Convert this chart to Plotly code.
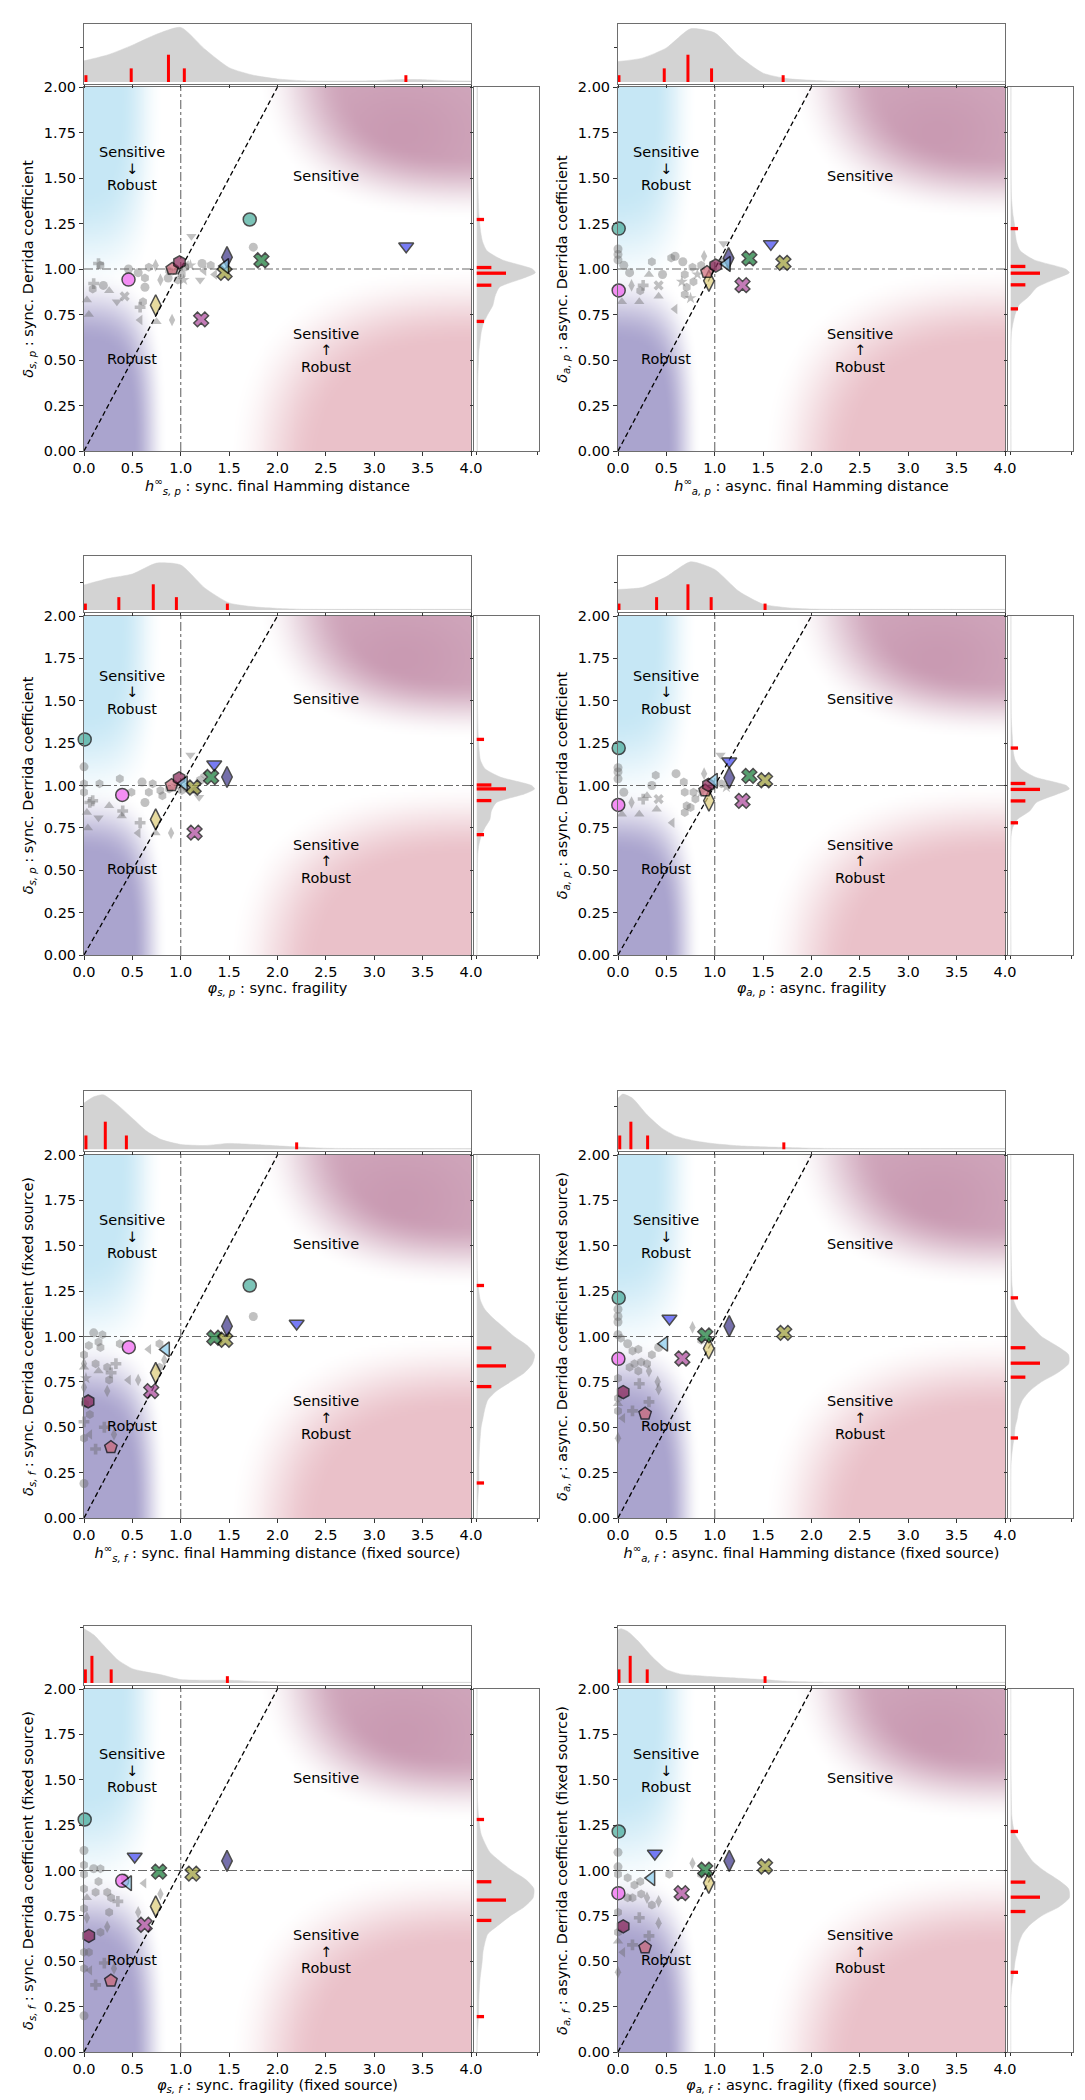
import base64
import struct
import zlib

import numpy as np
import plotly.graph_objects as go

W, H = 1085, 2100
FONT = "DejaVu Sans"
FS = 14.5

# ---------------- data ----------------
# highlighted models (same order in every panel)
HL_SYMBOLS = ["circle", "circle", "hexagon", "pentagon", "diamond-tall", "diamond-tall",
              "triangle-down", "triangle-left", "x", "x", "x"]
HL_COLORS = ["#44AA99", "#F060F0", "#882255", "#CC6677", "#DDCC77", "#3B3388",
             "#3F45F2", "#88CCEE", "#117733", "#999933", "#AA4499"]
DRAW_ORDER = [4, 10, 8, 9, 5, 6, 0, 1, 3, 2, 7]

hl_x_1 = [1.713, 0.46, 0.987, 0.912, 0.741, 1.478, 3.33, 1.46, 1.834, 1.453, 1.211]
hl_y_1 = [1.272, 0.942, 1.037, 1.001, 0.801, 1.065, 1.125, 1.016, 1.048, 0.979, 0.723]
hl_x_2 = [0.007, 0.007, 1.01, 0.92, 0.94, 1.143, 1.58, 1.125, 1.358, 1.71, 1.287]
hl_y_2 = [1.222, 0.882, 1.019, 0.983, 0.935, 1.06, 1.138, 1.028, 1.058, 1.034, 0.911]
hl_x_3 = [0.007, 0.395, 0.983, 0.905, 0.741, 1.478, 1.346, 1.033, 1.314, 1.133, 1.143]
hl_y_3 = [1.272, 0.944, 1.042, 1.002, 0.80, 1.05, 1.125, 1.013, 1.05, 0.988, 0.722]
hl_x_4 = [0.007, 0.003, 0.935, 0.9, 0.94, 1.15, 1.15, 0.992, 1.358, 1.52, 1.287]
hl_y_4 = [1.221, 0.885, 1.003, 0.97, 0.91, 1.045, 1.143, 1.028, 1.057, 1.031, 0.909]
hl_x_5 = [1.713, 0.463, 0.043, 0.278, 0.741, 1.478, 2.198, 0.848, 1.347, 1.46, 0.695]
hl_y_5 = [1.281, 0.941, 0.642, 0.39, 0.80, 1.057, 1.072, 0.929, 0.993, 0.982, 0.699]
hl_x_6 = [0.007, 0.004, 0.054, 0.28, 0.938, 1.15, 0.532, 0.478, 0.902, 1.718, 0.665]
hl_y_6 = [1.213, 0.877, 0.693, 0.575, 0.934, 1.057, 1.099, 0.96, 1.006, 1.02, 0.879]
hl_x_7 = [0.007, 0.395, 0.05, 0.278, 0.741, 1.478, 0.524, 0.456, 0.776, 1.122, 0.627]
hl_y_7 = [1.281, 0.943, 0.64, 0.393, 0.802, 1.053, 1.077, 0.93, 0.994, 0.983, 0.701]
hl_x_8 = [0.007, 0.004, 0.054, 0.28, 0.938, 1.15, 0.381, 0.345, 0.902, 1.52, 0.658]
hl_y_8 = [1.215, 0.875, 0.692, 0.576, 0.932, 1.053, 1.094, 0.958, 1.004, 1.022, 0.875]

# grey background models
gx_1 = [0.03,0.05,0.10,0.09,0.17,0.15,0.20,0.26,0.34,0.42,0.46,0.56,0.63,0.63,0.74,0.79,0.67,0.58,0.61,0.58,
        0.75,0.91,0.87,0.88,0.95,1.01,1.04,1.06,1.03,0.97,1.11,1.20,1.22,1.24,1.31,1.75,1.10,1.35]
gy_1 = [0.83,0.75,0.92,0.89,1.02,1.03,0.91,0.88,0.82,0.85,1.00,0.98,0.95,0.90,1.02,0.94,1.01,0.79,0.82,0.72,
        0.71,0.72,0.95,0.99,0.99,0.97,1.01,1.02,0.94,0.94,1.18,0.94,1.03,0.99,1.02,1.12,1.02,0.97]
gs_1 = "^^PhhPo^vXoohoddhPh<^doh*ho<*hvvo<ho*<"
gx_2 = [0.0,0.0,0.0,0.06,0.12,0.04,0.14,0.22,0.23,0.26,0.32,0.42,0.42,0.46,0.59,0.55,0.67,0.69,0.71,0.69,
        0.75,0.59,0.77,0.82,0.89,0.86,0.98,1.09,1.07,1.14,0.78,0.66,0.35]
gy_2 = [1.11,1.08,1.05,1.02,0.98,0.82,0.91,0.82,0.88,0.91,0.97,0.85,0.91,0.97,1.07,1.06,1.04,0.97,0.90,0.86,
        0.84,0.78,1.01,0.97,1.07,1.02,1.02,1.14,1.04,1.01,0.93,0.93,1.04]
gs_2 = "ooooo^d^hP^^Xoohohhh*<h*dhhvh<h*h"
gx_3 = [0.0,0.0,0.0,0.03,0.04,0.09,0.16,0.15,0.26,0.37,0.40,0.39,0.49,0.60,0.63,0.71,0.67,0.58,0.56,0.74,
        0.90,0.79,0.88,0.95,1.01,1.06,1.10,1.19,1.20,1.15,1.24,0.81,0.06]
gy_3 = [1.11,1.01,0.96,0.84,0.75,0.91,1.01,0.81,0.88,1.04,0.85,0.82,0.96,1.02,0.90,1.01,0.96,0.78,0.72,0.72,
        0.72,0.97,0.98,1.00,0.97,0.99,1.18,0.93,1.03,0.97,1.06,0.94,0.90]
gs_3 = "ohh^^Phv^hP^hoohhP<^dhh*hovvoh<hP"
gx_4 = [0.0,0.0,0.0,0.04,0.06,0.14,0.22,0.26,0.30,0.39,0.40,0.42,0.60,0.68,0.69,0.71,0.69,0.75,0.56,0.78,
        0.86,0.89,0.96,1.06,1.07,1.12,0.35,0.80]
gy_4 = [1.105,1.08,1.04,0.83,0.96,0.90,0.83,0.92,0.94,1.06,0.86,0.92,1.07,1.02,0.96,0.88,0.84,0.87,0.78,0.96,
        0.96,1.07,0.99,1.18,1.01,0.99,1.00,0.92]
gs_4 = "ooo^od^P^h^Xohhhhh<h*dhvh*oh"
gx_5 = [1.75,0.0,0.0,0.02,0.0,0.01,0.0,0.0,0.0,0.0,0.10,0.15,0.19,0.17,0.12,0.15,0.24,0.28,0.26,0.33,
        0.24,0.46,0.56,0.37,0.67,0.78,0.83,0.78,0.21,0.12,0.06,0.31,0.06,0.05]
gy_5 = [1.11,0.90,0.83,0.77,0.72,0.63,0.53,0.44,0.19,0.85,1.02,0.97,1.01,0.94,0.85,0.81,0.83,0.80,0.76,0.85,
        0.70,0.76,0.76,0.96,0.93,0.96,0.87,0.83,0.50,0.38,0.46,0.46,0.57,0.95]
gs_5 = "oh^*dhPhodohhhh^hPhPd<dh<hdhPP<dhh"
gx_6 = [0.0,0.0,0.0,0.0,0.03,0.10,0.15,0.21,0.24,0.17,0.12,0.30,0.32,0.22,0.41,0.42,0.35,0.42,0.77,0.86,
        0.0,0.0,0.0,0.0,0.0,0.15,0.32,0.05,0.21]
gy_6 = [1.11,1.15,1.08,1.01,0.99,0.96,0.92,0.93,0.86,0.85,0.83,0.85,0.81,0.74,0.75,0.71,0.90,0.94,1.05,0.98,
        0.77,0.66,0.59,0.44,0.63,0.59,0.64,0.55,0.81]
gs_6 = "oooohohhhhhhdPddhodhhhhd^PP<h"
gx_7 = [0.0,0.0,0.0,0.0,0.03,0.0,0.03,0.0,0.0,0.0,0.10,0.17,0.15,0.12,0.24,0.28,0.35,0.26,0.24,0.56,
        0.62,0.79,0.42,0.21,0.12,0.06,0.31,0.05,0.17]
gy_7 = [1.11,1.03,0.98,0.90,0.85,0.79,0.74,0.55,0.46,0.20,1.01,1.01,0.94,0.88,0.88,0.85,0.83,0.77,0.69,0.77,
        0.93,0.87,0.96,0.49,0.37,0.45,0.46,0.55,0.66]
gs_7 = "ohhh^hdhhoohhhhhPhdd<dhPP<dhh"
gx_8 = [0.0,0.0,0.0,0.10,0.17,0.23,0.24,0.15,0.30,0.35,0.22,0.42,0.42,0.53,0.77,0.86,0.0,0.0,0.0,0.0,
        0.15,0.32,0.05,0.10]
gy_8 = [1.10,1.02,0.98,0.96,0.92,0.94,0.87,0.85,0.85,0.81,0.74,0.83,0.71,0.98,1.04,0.98,0.77,0.66,0.61,0.44,
        0.59,0.64,0.55,0.85]
gs_8 = "oohhhhhhdhPddhdhhh^dPP<h"

# red marginal bars
top_bar_x_1 = [0.02, 0.488, 0.873, 1.037, 3.327]; top_bar_h_1 = [1, 2, 4, 2, 1]
top_bar_x_2 = [0.01, 0.478, 0.723, 0.967, 1.707]; top_bar_h_2 = [1, 2, 4, 2, 1]
top_bar_x_3 = [0.014, 0.36, 0.716, 0.955, 1.482]; top_bar_h_3 = [1, 2, 4, 2, 1]
top_bar_x_4 = [0.01, 0.399, 0.723, 0.963, 1.52]; top_bar_h_4 = [1, 2, 4, 2, 1]
top_bar_x_5 = [0.02, 0.22, 0.438, 2.198]; top_bar_h_5 = [2, 4, 2, 1]
top_bar_x_6 = [0.018, 0.133, 0.306, 1.714]; top_bar_h_6 = [2, 4, 2, 1]
top_bar_x_7 = [0.014, 0.082, 0.281, 1.482]; top_bar_h_7 = [2, 4, 2, 1]
top_bar_x_8 = [0.01, 0.126, 0.302, 1.52]; top_bar_h_8 = [2, 4, 2, 1]

right_bar_y_1 = [1.272, 1.008, 0.977, 0.911, 0.712]
right_bar_y_2 = [1.222, 1.014, 0.977, 0.913, 0.781]
right_bar_y_3 = [1.272, 1.003, 0.98, 0.911, 0.71]
right_bar_y_4 = [1.221, 1.012, 0.977, 0.909, 0.78]
right_bar_y_5 = [1.281, 0.937, 0.838, 0.724, 0.193]
right_bar_y_6 = [1.213, 0.938, 0.853, 0.776, 0.441]
right_bar_y_7 = [1.281, 0.938, 0.837, 0.725, 0.195]
right_bar_y_8 = [1.215, 0.936, 0.853, 0.774, 0.439]
right_bar_l = [1, 2, 4, 2, 1]

# marginal density curves
KX_A = [0, 0.25, 0.5, 0.75, 1.0, 1.25, 1.5, 1.75, 2.0, 2.25, 2.5, 2.75, 3.0, 3.25, 3.5, 3.75, 4.0]
top_kde_x_1 = KX_A
top_kde_v_1 = [3.1, 4.0, 5.4, 7.0, 8.0, 4.8, 2.1, 1.0, 0.45, 0.2, 0.15, 0.15, 0.2, 0.35, 0.35, 0.2, 0.15]
top_kde_x_2 = KX_A
top_kde_v_2 = [3.0, 3.5, 5.0, 7.8, 7.2, 3.8, 1.3, 0.5, 0.25, 0.12, 0.1, 0.1, 0.1, 0.1, 0.1, 0.1, 0.1]
top_kde_x_3 = KX_A
top_kde_v_3 = [3.9, 4.9, 5.6, 7.3, 7.0, 3.4, 1.1, 0.5, 0.25, 0.12, 0.1, 0.1, 0.1, 0.1, 0.1, 0.1, 0.1]
top_kde_x_4 = KX_A
top_kde_v_4 = [3.2, 3.5, 5.2, 7.5, 6.3, 2.9, 0.9, 0.35, 0.15, 0.1, 0.1, 0.1, 0.1, 0.1, 0.1, 0.1, 0.1]
top_kde_x_5 = [0, 0.1, 0.2, 0.35, 0.5, 0.65, 0.8, 1.0, 1.25, 1.5, 1.75, 2.0, 2.25, 2.5, 3.0, 4.0]
top_kde_v_5 = [6.7, 7.6, 7.9, 6.4, 4.5, 2.6, 1.4, 0.7, 0.55, 0.85, 0.7, 0.5, 0.3, 0.15, 0.1, 0.1]
top_kde_x_6 = [0, 0.05, 0.15, 0.3, 0.45, 0.6, 0.8, 1.0, 1.25, 1.5, 1.75, 2.0, 2.5, 3.0, 4.0]
top_kde_v_6 = [7.4, 8.0, 7.4, 5.0, 3.1, 1.9, 1.2, 0.8, 0.5, 0.35, 0.25, 0.15, 0.1, 0.1, 0.1]
top_kde_x_7 = [0, 0.1, 0.2, 0.35, 0.5, 0.65, 0.8, 1.0, 1.25, 1.5, 1.75, 2.0, 2.5, 3.0, 4.0]
top_kde_v_7 = [8.0, 7.1, 5.6, 3.4, 2.1, 1.6, 1.2, 0.5, 0.4, 0.4, 0.25, 0.15, 0.1, 0.1, 0.1]
top_kde_x_8 = [0, 0.03, 0.1, 0.2, 0.35, 0.5, 0.65, 0.8, 1.0, 1.25, 1.5, 1.75, 2.0, 2.5, 3.0, 4.0]
top_kde_v_8 = [7.8, 8.0, 7.6, 6.3, 3.9, 2.0, 1.3, 1.1, 0.9, 0.7, 0.5, 0.25, 0.15, 0.1, 0.1, 0.1]

right_kde_y_1 = [0.0, 0.4, 0.5, 0.55, 0.6, 0.65, 0.7, 0.75, 0.8, 0.85, 0.9, 0.95, 0.98, 1.0, 1.05, 1.1, 1.15, 1.2, 1.3, 1.5, 2.0]
right_kde_v_1 = [0.1, 0.15, 0.25, 0.3, 0.45, 0.6, 0.9, 1.5, 2.2, 2.5, 3.1, 6.4, 8.0, 7.6, 3.5, 1.4, 0.8, 0.55, 0.3, 0.15, 0.1]
right_kde_y_2 = [0.0, 0.6, 0.65, 0.7, 0.75, 0.8, 0.85, 0.9, 0.95, 0.98, 1.0, 1.05, 1.1, 1.15, 1.2, 1.25, 1.3, 1.4, 2.0]
right_kde_v_2 = [0.05, 0.05, 0.1, 0.3, 0.6, 1.1, 2.5, 3.6, 6.4, 8.0, 7.5, 3.2, 1.3, 0.8, 0.6, 0.5, 0.3, 0.1, 0.05]
right_kde_y_3 = [0.0, 0.5, 0.6, 0.65, 0.7, 0.75, 0.8, 0.85, 0.9, 0.95, 0.98, 1.0, 1.05, 1.1, 1.15, 1.2, 1.3, 1.5, 2.0]
right_kde_v_3 = [0.05, 0.1, 0.15, 0.3, 0.6, 1.1, 1.8, 2.0, 2.7, 6.5, 7.9, 7.5, 3.2, 1.1, 0.5, 0.35, 0.2, 0.1, 0.05]
right_kde_y_4 = [0.0, 0.7, 0.75, 0.8, 0.85, 0.9, 0.95, 0.98, 1.0, 1.05, 1.1, 1.15, 1.2, 1.3, 1.4, 2.0]
right_kde_v_4 = [0.05, 0.05, 0.25, 0.9, 2.6, 3.5, 6.4, 8.0, 7.6, 3.3, 1.35, 0.6, 0.35, 0.2, 0.08, 0.05]
right_kde_y_5 = [0.0, 0.1, 0.2, 0.3, 0.4, 0.5, 0.55, 0.6, 0.65, 0.7, 0.75, 0.8, 0.85, 0.9, 0.95, 1.0, 1.05, 1.1, 1.15, 1.2, 1.3, 1.5, 2.0]
right_kde_v_5 = [0.05, 0.15, 0.3, 0.3, 0.4, 0.6, 0.85, 1.1, 1.5, 2.7, 4.6, 6.5, 7.6, 7.9, 6.9, 5.1, 3.7, 2.25, 1.1, 0.5, 0.15, 0.05, 0.05]
right_kde_y_6 = [0.0, 0.3, 0.35, 0.4, 0.45, 0.5, 0.55, 0.6, 0.65, 0.7, 0.75, 0.8, 0.85, 0.9, 0.95, 1.0, 1.05, 1.1, 1.15, 1.2, 1.25, 1.3, 1.5, 2.0]
right_kde_v_6 = [0.02, 0.05, 0.15, 0.3, 0.5, 0.6, 0.9, 1.1, 1.6, 2.6, 4.2, 6.4, 7.9, 7.9, 6.2, 4.2, 3.0, 1.8, 0.9, 0.4, 0.25, 0.15, 0.05, 0.02]
right_kde_y_7 = [0.0, 0.1, 0.2, 0.3, 0.4, 0.45, 0.5, 0.55, 0.6, 0.65, 0.7, 0.75, 0.8, 0.85, 0.9, 0.95, 1.0, 1.05, 1.1, 1.2, 1.3, 1.4, 2.0]
right_kde_v_7 = [0.05, 0.1, 0.25, 0.3, 0.45, 0.6, 0.75, 0.85, 1.1, 1.5, 3.0, 4.6, 6.5, 7.7, 7.8, 6.7, 4.8, 3.2, 1.8, 0.6, 0.25, 0.1, 0.05]
right_kde_y_8 = [0.0, 0.3, 0.35, 0.4, 0.45, 0.5, 0.55, 0.6, 0.65, 0.7, 0.75, 0.8, 0.85, 0.9, 0.95, 1.0, 1.05, 1.1, 1.15, 1.2, 1.25, 1.3, 1.5, 2.0]
right_kde_v_8 = [0.02, 0.03, 0.1, 0.3, 0.45, 0.6, 0.85, 1.1, 1.6, 2.6, 4.2, 6.6, 8.0, 7.9, 6.4, 4.5, 3.0, 2.1, 1.35, 0.6, 0.3, 0.15, 0.05, 0.02]

x_titles = [
    "<i>h</i><sup>∞</sup><sub><i>s, p</i></sub> : sync. final Hamming distance",
    "<i>h</i><sup>∞</sup><sub><i>a, p</i></sub> : async. final Hamming distance",
    "<i>φ</i><sub><i>s, p</i></sub> : sync. fragility",
    "<i>φ</i><sub><i>a, p</i></sub> : async. fragility",
    "<i>h</i><sup>∞</sup><sub><i>s, f</i></sub> : sync. final Hamming distance (fixed source)",
    "<i>h</i><sup>∞</sup><sub><i>a, f</i></sub> : async. final Hamming distance (fixed source)",
    "<i>φ</i><sub><i>s, f</i></sub> : sync. fragility (fixed source)",
    "<i>φ</i><sub><i>a, f</i></sub> : async. fragility (fixed source)",
]
y_titles = [
    "<i>δ</i><sub><i>s, p</i></sub> : sync. Derrida coefficient",
    "<i>δ</i><sub><i>a, p</i></sub> : async. Derrida coefficient",
    "<i>δ</i><sub><i>s, p</i></sub> : sync. Derrida coefficient",
    "<i>δ</i><sub><i>a, p</i></sub> : async. Derrida coefficient",
    "<i>δ</i><sub><i>s, f</i></sub> : sync. Derrida coefficient (fixed source)",
    "<i>δ</i><sub><i>a, f</i></sub> : async. Derrida coefficient (fixed source)",
    "<i>δ</i><sub><i>s, f</i></sub> : sync. Derrida coefficient (fixed source)",
    "<i>δ</i><sub><i>a, f</i></sub> : async. Derrida coefficient (fixed source)",
]
x_ticks = [0.0, 0.5, 1.0, 1.5, 2.0, 2.5, 3.0, 3.5, 4.0]
y_ticks = [0.0, 0.25, 0.5, 0.75, 1.0, 1.25, 1.5, 1.75, 2.0]

HL_X = [hl_x_1, hl_x_2, hl_x_3, hl_x_4, hl_x_5, hl_x_6, hl_x_7, hl_x_8]
HL_Y = [hl_y_1, hl_y_2, hl_y_3, hl_y_4, hl_y_5, hl_y_6, hl_y_7, hl_y_8]
GX = [gx_1, gx_2, gx_3, gx_4, gx_5, gx_6, gx_7, gx_8]
GY = [gy_1, gy_2, gy_3, gy_4, gy_5, gy_6, gy_7, gy_8]
GS = [gs_1, gs_2, gs_3, gs_4, gs_5, gs_6, gs_7, gs_8]
TBX = [top_bar_x_1, top_bar_x_2, top_bar_x_3, top_bar_x_4, top_bar_x_5, top_bar_x_6, top_bar_x_7, top_bar_x_8]
TBH = [top_bar_h_1, top_bar_h_2, top_bar_h_3, top_bar_h_4, top_bar_h_5, top_bar_h_6, top_bar_h_7, top_bar_h_8]
RBY = [right_bar_y_1, right_bar_y_2, right_bar_y_3, right_bar_y_4, right_bar_y_5, right_bar_y_6, right_bar_y_7, right_bar_y_8]
TKX = [top_kde_x_1, top_kde_x_2, top_kde_x_3, top_kde_x_4, top_kde_x_5, top_kde_x_6, top_kde_x_7, top_kde_x_8]
TKV = [top_kde_v_1, top_kde_v_2, top_kde_v_3, top_kde_v_4, top_kde_v_5, top_kde_v_6, top_kde_v_7, top_kde_v_8]
RKY = [right_kde_y_1, right_kde_y_2, right_kde_y_3, right_kde_y_4, right_kde_y_5, right_kde_y_6, right_kde_y_7, right_kde_y_8]
RKV = [right_kde_v_1, right_kde_v_2, right_kde_v_3, right_kde_v_4, right_kde_v_5, right_kde_v_6, right_kde_v_7, right_kde_v_8]

SYM = {"o": "circle", "^": "triangle-up", "v": "triangle-down", "<": "triangle-left",
       "d": "diamond-tall", "P": "cross", "X": "x", "h": "hexagon", "p": "pentagon", "*": "star"}

# ---------------- layout geometry (pixels) ----------------
COL_X = [(76, 463, 466, 531), (610, 997, 1000, 1065)]
ROW_Y = [(16, 76, 79, 443), (548, 604, 608, 947), (1083, 1143, 1147, 1510), (1618, 1677, 1681, 2044)]
TOP_RANGE = [[-0.29, 8.5], [-0.31, 8.4], [-0.25, 8.45], [-0.3, 8.4]]
TOP_TICK = [5.0, 4.3, 6.2, 8.2]
RIGHT_RANGE = [-0.37, 8.5]


# ---------------- decorative background (regions) as a PNG ----------------
def smooth(a, b, t):
    s = np.clip((t - a) / (b - a), 0, 1)
    return s * s * (3 - 2 * s)


def sdist(X, Y, cx, cy, rx, ry, p):
    return (np.abs((X - cx) / rx) ** p + np.abs((Y - cy) / ry) ** p) ** (1.0 / p)


NPX, NPY = 400, 200
gxv = (np.arange(NPX) + 0.5) / NPX * 4.0
gyv = 2.0 - (np.arange(NPY) + 0.5) / NPY * 2.0
MX, MY = np.meshgrid(gxv, gyv)
core = 0.86 + 0.14 * np.exp(-((MY - 1.75) / 0.3) ** 2 - ((MX - 3.3) / 0.8) ** 2)
layers = [
    ((198, 231, 245), 1 - smooth(0.73, 1.3, sdist(MX, MY, -0.2, 2.2, 0.78, 1.05, 4))),
    ((170, 164, 206), 1 - smooth(0.8, 1.2, sdist(MX, MY, -0.2, -0.2, 0.88, 1.0, 4))),
    ((201, 154, 178), (1 - smooth(0.78, 1.2, sdist(MX, MY, 4.3, 2.3, 2.1, 0.86, 3))) * core),
    ((234, 193, 201), 1 - smooth(0.8, 1.2, sdist(MX, MY, 4.3, -0.3, 2.35, 1.1, 3))),
]
img = np.ones((NPY, NPX, 3)) * 255.0
for col, a in layers:
    a3 = a[..., None]
    img = img * (1 - a3) + np.array(col, dtype=float) * a3
img = np.clip(np.round(img), 0, 255).astype(np.uint8)


def png_uri(arr):
    h, w, _ = arr.shape
    raw = b"".join(b"\x00" + arr[r].tobytes() for r in range(h))

    def chunk(tag, data):
        return struct.pack(">I", len(data)) + tag + data + struct.pack(">I", zlib.crc32(tag + data) & 0xFFFFFFFF)

    png = (b"\x89PNG\r\n\x1a\n" + chunk(b"IHDR", struct.pack(">IIBBBBB", w, h, 8, 2, 0, 0, 0))
           + chunk(b"IDAT", zlib.compress(raw, 9)) + chunk(b"IEND", b""))
    return "data:image/png;base64," + base64.b64encode(png).decode()


BG_URI = png_uri(img)


def nm(prefix, k):
    return prefix if k == 1 else f"{prefix}{k}"


fig = go.Figure()
layout_axes = {}
annotations = []
images = []
tickfont = dict(family=FONT, size=FS, color="black")
common = dict(showgrid=False, zeroline=False, showline=True, linecolor="#6e6e6e", linewidth=1,
              mirror=True, ticks="outside", tickcolor="#333", tickwidth=1, automargin=False)

for i in range(8):
    col, row = i % 2, i // 2
    mx0, mx1, rx0, rx1 = COL_X[col]
    ty0, ty1, my0, my1 = ROW_Y[row]
    k = 3 * i + 1
    xm, ym = nm("x", k), nm("y", k)
    xt, yt_ = nm("x", k + 1), nm("y", k + 1)
    xr, yr = nm("x", k + 2), nm("y", k + 2)

    images.append(dict(source=BG_URI, xref=xm, yref=ym, x=0, y=2, sizex=4, sizey=2,
                       sizing="stretch", layer="below", xanchor="left", yanchor="top"))

    # reference lines
    fig.add_trace(go.Scatter(x=[1, 1], y=[0, 2], mode="lines", line=dict(color="#6a6a6a", width=1.1, dash="dashdot"),
                             hoverinfo="skip", xaxis=xm, yaxis=ym))
    fig.add_trace(go.Scatter(x=[0, 4], y=[1, 1], mode="lines", line=dict(color="#6a6a6a", width=1.1, dash="dashdot"),
                             hoverinfo="skip", xaxis=xm, yaxis=ym))
    fig.add_trace(go.Scatter(x=[0, 2], y=[0, 2], mode="lines", line=dict(color="black", width=1.3, dash="5px,3px"),
                             hoverinfo="skip", xaxis=xm, yaxis=ym))

    # grey models
    gs = GS[i]
    fig.add_trace(go.Scatter(
        x=GX[i], y=GY[i], mode="markers", cliponaxis=False,
        marker=dict(size=9, color="rgba(100,100,100,0.4)",
                    symbol=[SYM[gs[j % len(gs)]] for j in range(len(GX[i]))], line=dict(width=0)),
        hoverinfo="skip", xaxis=xm, yaxis=ym))

    # highlighted models
    fig.add_trace(go.Scatter(
        x=[HL_X[i][j] for j in DRAW_ORDER], y=[HL_Y[i][j] for j in DRAW_ORDER],
        mode="markers", cliponaxis=False,
        marker=dict(size=[15 if HL_SYMBOLS[j] == "diamond-tall" else 13 for j in DRAW_ORDER],
                    symbol=[HL_SYMBOLS[j] for j in DRAW_ORDER],
                    color=[HL_COLORS[j] for j in DRAW_ORDER],
                    line=dict(color="black", width=1.5)),
        xaxis=xm, yaxis=ym))

    # top marginal: density + red stems
    fig.add_trace(go.Scatter(x=TKX[i], y=TKV[i], mode="lines", fill="tozeroy",
                             line=dict(color="rgb(211,211,211)", width=0.5, shape="spline", smoothing=0.6),
                             fillcolor="rgb(211,211,211)", hoverinfo="skip", xaxis=xt, yaxis=yt_))
    sx, sy = [], []
    for bx, bh in zip(TBX[i], TBH[i]):
        sx += [bx, bx, None]
        sy += [0, bh, None]
    fig.add_trace(go.Scatter(x=sx, y=sy, mode="lines", line=dict(color="red", width=3),
                             hoverinfo="skip", xaxis=xt, yaxis=yt_))

    # right marginal: density + red stems
    fig.add_trace(go.Scatter(x=RKV[i], y=RKY[i], mode="lines", fill="tozerox",
                             line=dict(color="rgb(211,211,211)", width=0.5, shape="spline", smoothing=0.6),
                             fillcolor="rgb(211,211,211)", hoverinfo="skip", xaxis=xr, yaxis=yr))
    rx, ry = [], []
    for by, bl in zip(RBY[i], right_bar_l):
        rx += [0, bl, None]
        ry += [by, by, None]
    fig.add_trace(go.Scatter(x=rx, y=ry, mode="lines", line=dict(color="red", width=3.3),
                             hoverinfo="skip", xaxis=xr, yaxis=yr))

    mdx = [mx0 / W, mx1 / W]
    mdy = [1 - my1 / H, 1 - my0 / H]
    layout_axes[nm("xaxis", k)] = dict(
        common, domain=mdx, anchor=ym, range=[0, 4], tickmode="array", tickvals=x_ticks,
        ticktext=[f"{v:.1f}" for v in x_ticks], ticklen=4, tickfont=tickfont,
        title=dict(text=x_titles[i], font=tickfont, standoff=2))
    layout_axes[nm("yaxis", k)] = dict(
        common, domain=mdy, anchor=xm, range=[0, 2], tickmode="array", tickvals=y_ticks,
        ticktext=[f"{v:.2f}" for v in y_ticks], ticklen=4, tickfont=tickfont,
        title=dict(text=y_titles[i], font=tickfont, standoff=6))
    layout_axes[nm("xaxis", k + 1)] = dict(
        common, domain=mdx, anchor=yt_, range=[0, 4], tickmode="array", tickvals=x_ticks,
        showticklabels=False, ticklen=3)
    layout_axes[nm("yaxis", k + 1)] = dict(
        common, domain=[1 - ty1 / H, 1 - ty0 / H], anchor=xt, range=TOP_RANGE[row], tickmode="array",
        tickvals=[TOP_TICK[row]], showticklabels=False, ticklen=3)
    layout_axes[nm("xaxis", k + 2)] = dict(
        common, domain=[rx0 / W, rx1 / W], anchor=yr, range=RIGHT_RANGE, tickmode="array",
        tickvals=[0, 8.3], showticklabels=False, ticklen=3)
    layout_axes[nm("yaxis", k + 2)] = dict(
        common, domain=mdy, anchor=xr, range=[0, 2], tickmode="array", tickvals=y_ticks,
        showticklabels=False, ticklen=3)

    afont = dict(family=FONT, size=FS, color="black")
    for text, ax, ay, sh in [("Sensitive", 0.5, 1.55, 16.5), ("↓", 0.5, 1.55, 0), ("Robust", 0.5, 1.55, -16.5),
                             ("Sensitive", 2.5, 1.51, 0), ("Robust", 0.5, 0.505, 0),
                             ("Sensitive", 2.5, 0.553, 16.5), ("↑", 2.5, 0.553, 0), ("Robust", 2.5, 0.553, -16.5)]:
        annotations.append(dict(x=ax, y=ay, xref=xm, yref=ym, text=text, showarrow=False,
                                yshift=sh, font=afont, xanchor="center", yanchor="middle"))

fig.update_layout(
    width=W, height=H, margin=dict(l=0, r=0, t=0, b=0),
    paper_bgcolor="white", plot_bgcolor="rgba(0,0,0,0)", showlegend=False,
    font=dict(family=FONT, size=FS, color="black"),
    annotations=annotations, images=images,
    **layout_axes)

fig.write_html("out.html")
